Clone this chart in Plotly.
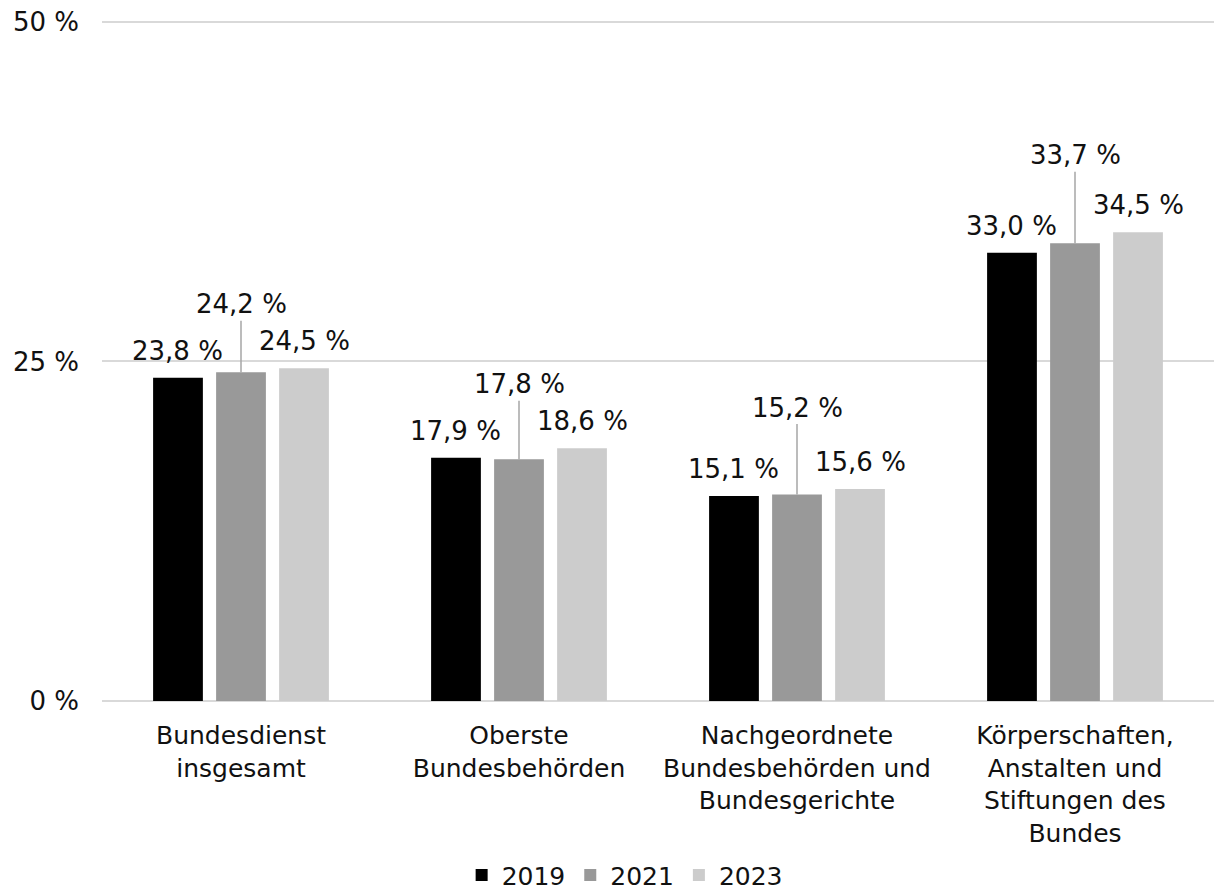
import plotly.graph_objects as go

# Anteil (in %) nach Bereich und Jahr
categories = [
    "Bundesdienst<br>insgesamt",
    "Oberste<br>Bundesbehörden",
    "Nachgeordnete<br>Bundesbehörden und<br>Bundesgerichte",
    "Körperschaften,<br>Anstalten und<br>Stiftungen des<br>Bundes",
]
years = ["2019", "2021", "2023"]
values_2019 = [23.8, 17.9, 15.1, 33.0]
values_2021 = [24.2, 17.8, 15.2, 33.7]
values_2023 = [24.5, 18.6, 15.6, 34.5]
y_ticks = [0, 25, 50]

series = [values_2019, values_2021, values_2023]
colors = ["#000000", "#999999", "#cccccc"]

FONT = "DejaVu Sans"
TEXT_COLOR = "#111111"
BARGAP = 0.32
BARGROUPGAP = 0.21

# pixel lift of the 2021 labels above their bars (drawn with a leader line)
leader_lift = [-68, -75, -87, -88]

fig = go.Figure()
for name, vals, col in zip(years, series, colors):
    fig.add_trace(go.Bar(
        name=name,
        x=list(range(len(categories))),
        y=vals,
        marker=dict(color=col, line=dict(width=0)),
    ))

slot = (1 - BARGAP) / len(series)
annotations = []
for k, vals in enumerate(series):
    dx = (k - 1) * slot
    for i, v in enumerate(vals):
        label = f"{v:.1f}".replace(".", ",") + " %"
        if k == 1:
            annotations.append(dict(
                x=i + dx, y=v, xref="x", yref="y",
                text=label, showarrow=True, arrowhead=0,
                arrowwidth=1.5, arrowcolor="#a6a6a6",
                ax=0, ay=leader_lift[i], standoff=0,
                font=dict(family=FONT, size=26, color=TEXT_COLOR),
            ))
        else:
            annotations.append(dict(
                x=i + dx, y=v, xref="x", yref="y",
                text=label, showarrow=False,
                yanchor="middle", yshift=27,
                font=dict(family=FONT, size=26, color=TEXT_COLOR),
            ))

fig.update_layout(
    width=1214, height=894,
    margin=dict(l=102, r=0, t=15, b=193, autoexpand=False),
    paper_bgcolor="white", plot_bgcolor="white",
    barmode="group", bargap=BARGAP, bargroupgap=BARGROUPGAP,
    separators=", ",
    font=dict(family=FONT, size=25, color=TEXT_COLOR),
    annotations=annotations,
    showlegend=True,
    legend=dict(
        orientation="h", x=0.47, xanchor="center",
        y=-0.254, yanchor="middle",
        font=dict(family=FONT, size=25, color=TEXT_COLOR),
        itemwidth=30, traceorder="normal",
    ),
    xaxis=dict(
        tickmode="array",
        tickvals=list(range(len(categories))),
        ticktext=categories,
        range=[-0.5, len(categories) - 0.5],
        showgrid=False, showline=False, zeroline=False,
        ticks="", ticklabelstandoff=17, automargin=False,
        tickfont=dict(family=FONT, size=25, color=TEXT_COLOR),
    ),
    yaxis=dict(
        range=[0, 50.5],
        tickmode="array", tickvals=y_ticks,
        ticktext=[f"{t} %" for t in y_ticks],
        showgrid=True, gridcolor="#d9d9d9", gridwidth=2,
        zeroline=True, zerolinecolor="#d9d9d9", zerolinewidth=2,
        showline=False, ticks="", ticklabelstandoff=22, automargin=False,
        tickfont=dict(family=FONT, size=26, color=TEXT_COLOR),
    ),
)

fig.write_html("out.html")
